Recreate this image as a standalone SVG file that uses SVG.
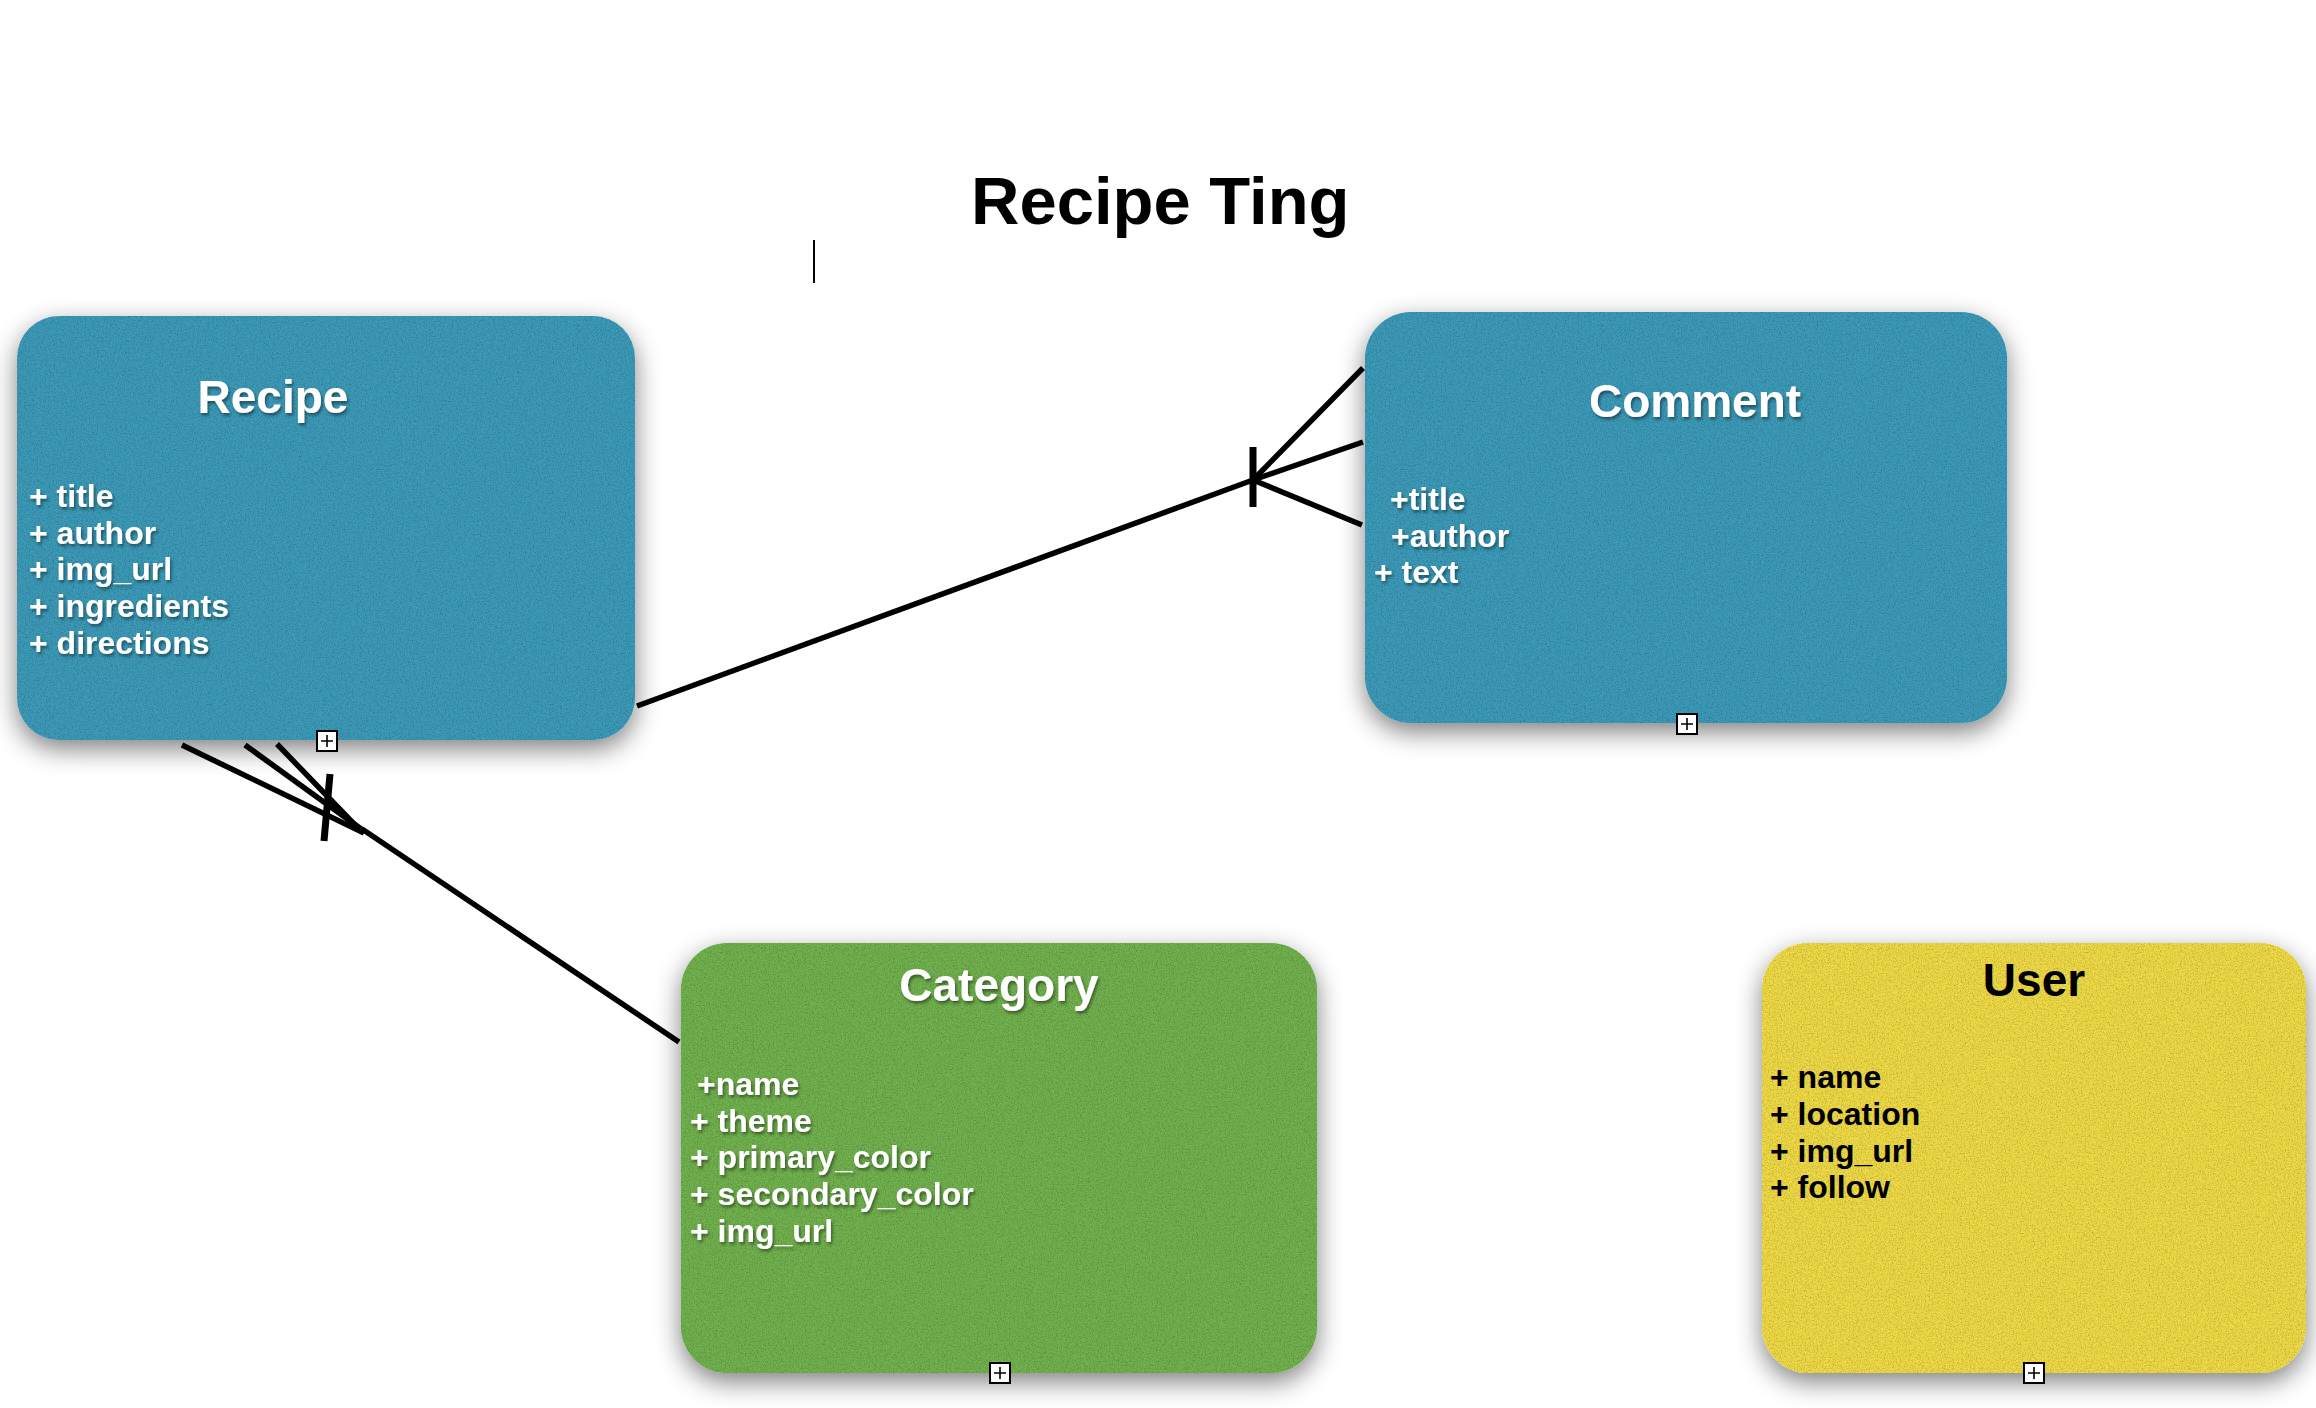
<svg xmlns="http://www.w3.org/2000/svg" xmlns:xlink="http://www.w3.org/1999/xlink" width="2316" height="1408" viewBox="0 0 2316 1408">
<defs>
<style>
.box{stroke:none}
.blue{fill:#3e9bb9}
.green{fill:#72b24f}
.yellow{fill:#f0db47}
.title{font-family:"Liberation Sans",Arial,sans-serif;font-weight:bold;font-size:46px;text-anchor:middle}
.attr{font-family:"Liberation Sans",Arial,sans-serif;font-weight:bold;font-size:32px}
.wt{fill:#ffffff;filter:url(#tshadow)}
.bk{fill:#000000}
.conn{stroke:#000;stroke-width:5.5;fill:none;stroke-linecap:butt}
.bar{stroke:#000;stroke-width:7;fill:none}
</style>
<filter id="tex" x="-12%" y="-12%" width="130%" height="135%">
<feGaussianBlur in="SourceAlpha" stdDeviation="13" result="b"/>
<feOffset in="b" dy="9" result="o"/>
<feComponentTransfer in="o" result="shadow"><feFuncA type="linear" slope="0.5"/></feComponentTransfer>
<feTurbulence type="fractalNoise" baseFrequency="0.75" numOctaves="3" seed="4" result="noise"/>
<feColorMatrix in="noise" type="matrix" values="0 0 0 0 0  0 0 0 0 0  0 0 0 0 0  1.0 0 0 0 -0.4" result="dark"/>
<feComposite in="dark" in2="SourceAlpha" operator="in" result="speck"/>
<feMerge><feMergeNode in="shadow"/><feMergeNode in="SourceGraphic"/><feMergeNode in="speck"/></feMerge>
</filter>
<filter id="tshadow" x="-5%" y="-20%" width="115%" height="150%">
<feDropShadow dx="1.5" dy="2.5" stdDeviation="1.5" flood-color="#000" flood-opacity="0.45"/>
</filter>
<g id="plus">
<rect x="-10" y="-10" width="20" height="20" fill="#fff" stroke="#000" stroke-width="2"/>
<path d="M-6 0H6M0 -6V6" stroke="#000" stroke-width="1.6"/>
</g>
</defs>
<rect width="2316" height="1408" fill="#ffffff"/>
<text x="971" y="224" font-family="'Liberation Sans',Arial,sans-serif" font-weight="bold" font-size="67" fill="#000">Recipe Ting</text>
<line x1="814" y1="240" x2="814" y2="283" stroke="#000" stroke-width="2"/>

<g id="recipe">
<rect class="box blue" x="17" y="316" width="618" height="424" rx="42" filter="url(#tex)"/>
<text class="title wt" x="273" y="413">Recipe</text>
<text class="attr wt" x="29" y="507">+ title</text>
<text class="attr wt" x="29" y="544">+ author</text>
<text class="attr wt" x="29" y="580">+ img_url</text>
<text class="attr wt" x="29" y="617">+ ingredients</text>
<text class="attr wt" x="29" y="654">+ directions</text>
<use xlink:href="#plus" x="327" y="741"/>
</g>

<g id="comment">
<rect class="box blue" x="1365" y="312" width="642" height="411" rx="46" filter="url(#tex)"/>
<text class="title wt" x="1695" y="417">Comment</text>
<text class="attr wt" x="1390" y="510">+title</text>
<text class="attr wt" x="1391" y="547">+author</text>
<text class="attr wt" x="1374" y="583">+ text</text>
<use xlink:href="#plus" x="1687" y="724"/>
</g>

<g id="category">
<rect class="box green" x="681" y="943" width="636" height="430" rx="46" filter="url(#tex)"/>
<text class="title wt" x="999" y="1001">Category</text>
<text class="attr wt" x="697" y="1095">+name</text>
<text class="attr wt" x="690" y="1132">+ theme</text>
<text class="attr wt" x="690" y="1168">+ primary_color</text>
<text class="attr wt" x="690" y="1205">+ secondary_color</text>
<text class="attr wt" x="690" y="1242">+ img_url</text>
<use xlink:href="#plus" x="1000" y="1373"/>
</g>

<g id="user">
<rect class="box yellow" x="1762" y="943" width="544" height="430" rx="46" filter="url(#tex)"/>
<text class="title bk" x="2034" y="996">User</text>
<text class="attr bk" x="1770" y="1088">+ name</text>
<text class="attr bk" x="1770" y="1125">+ location</text>
<text class="attr bk" x="1770" y="1162">+ img_url</text>
<text class="attr bk" x="1770" y="1198">+ follow</text>
<use xlink:href="#plus" x="2034" y="1373"/>
</g>

<g id="connectors">
<line class="conn" x1="637" y1="706" x2="1253" y2="480"/>
<line class="conn" x1="1253" y1="480" x2="1363" y2="368"/>
<line class="conn" x1="1253" y1="480" x2="1363" y2="442"/>
<line class="conn" x1="1253" y1="480" x2="1362" y2="525"/>
<line class="bar" x1="1253" y1="447" x2="1253" y2="507"/>
<line class="conn" x1="679" y1="1042" x2="362" y2="829"/>
<line class="conn" x1="182" y1="745" x2="364" y2="833"/>
<line class="conn" x1="245" y1="745" x2="364" y2="831"/>
<line class="conn" x1="277" y1="744" x2="356" y2="826"/>
<line class="bar" x1="330" y1="774" x2="324" y2="841"/>
</g>
</svg>
